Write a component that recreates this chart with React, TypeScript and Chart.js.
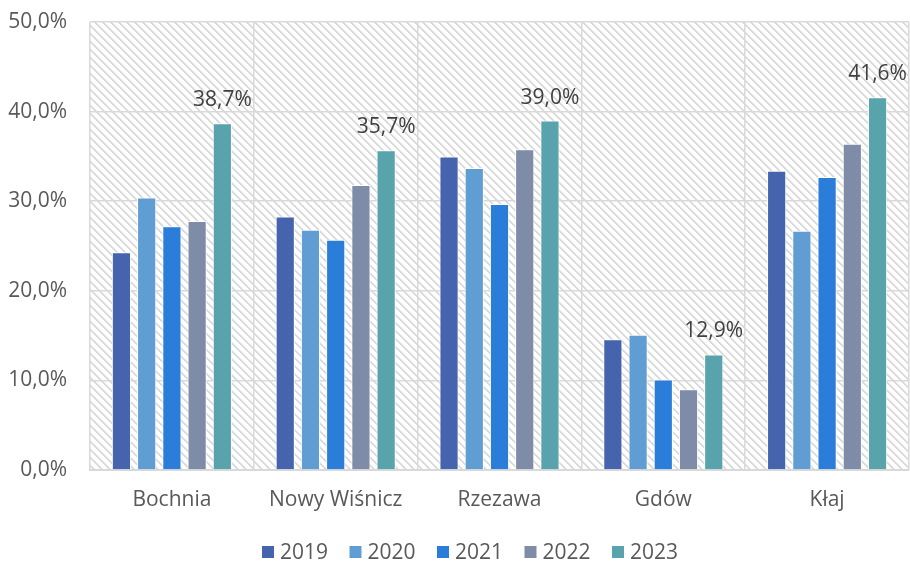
import React, { useEffect, useRef } from "react";
import { Chart, registerables } from "chart.js";

Chart.register(...registerables);

const categories = ["Bochnia", "Nowy Wiśnicz", "Rzezawa", "Gdów", "Kłaj"];
const years = ["2019", "2020", "2021", "2022", "2023"];
const values2019 = [24.3, 28.3, 35.0, 14.6, 33.4];
const values2020 = [30.4, 26.8, 33.7, 15.1, 26.7];
const values2021 = [27.2, 25.7, 29.7, 10.1, 32.7];
const values2022 = [27.8, 31.8, 35.8, 9.0, 36.4];
const values2023 = [38.7, 35.7, 39.0, 12.9, 41.6];
const seriesColors = ["#4664AD", "#609DD3", "#2A7DD8", "#7F8CA7", "#59A3AC"];
const yTicks = [0, 10, 20, 30, 40, 50];

const FONT = "'Open Sans', 'Noto Sans', sans-serif";
const fmt = (v: number) => v.toFixed(1).replace(".", ",") + "%";

function makePattern(ctx: CanvasRenderingContext2D) {
  const c = document.createElement("canvas");
  c.width = 8;
  c.height = 8;
  const p = c.getContext("2d")!;
  p.fillStyle = "#ffffff";
  p.fillRect(0, 0, 8, 8);
  for (let y = 0; y < 8; y++) {
    for (let x = 0; x < 8; x++) {
      const d = (((x - y) % 8) + 8) % 8;
      if (d === 0 || d === 1) {
        p.fillStyle = "#d9d9d9";
        p.fillRect(x, y, 1, 1);
      } else if (d === 2) {
        p.fillStyle = "#efefef";
        p.fillRect(x, y, 1, 1);
      }
    }
  }
  return ctx.createPattern(c, "repeat");
}

const hatchPlugin = {
  id: "hatch",
  beforeDraw(chart: any) {
    const { ctx, chartArea } = chart;
    if (!chartArea) return;
    ctx.save();
    ctx.fillStyle = "#ffffff";
    ctx.fillRect(0, 0, chart.width, chart.height);
    const pat = makePattern(ctx);
    if (pat) {
      ctx.fillStyle = pat;
      ctx.fillRect(chartArea.left, chartArea.top, chartArea.right - chartArea.left, chartArea.bottom - chartArea.top);
    }
    ctx.restore();
  },
};

const labelPlugin = {
  id: "lastLabels",
  afterDatasetsDraw(chart: any) {
    const { ctx } = chart;
    const idx = chart.data.datasets.length - 1;
    const meta = chart.getDatasetMeta(idx);
    const data = chart.data.datasets[idx].data as number[];
    ctx.save();
    ctx.font = `21px ${FONT}`;
    ctx.fillStyle = "#404040";
    ctx.textAlign = "center";
    ctx.textBaseline = "alphabetic";
    meta.data.forEach((bar: any, i: number) => {
      ctx.fillText(fmt(data[i]), bar.x, bar.y - 17);
    });
    ctx.restore();
  },
};

const legendPlugin = {
  id: "customLegend",
  afterDraw(chart: any) {
    const { ctx } = chart;
    ctx.save();
    ctx.font = `21px ${FONT}`;
    ctx.textBaseline = "middle";
    ctx.textAlign = "left";
    const cy = 552;
    chart.data.datasets.forEach((ds: any, i: number) => {
      const x = 262 + i * 87.5;
      ctx.fillStyle = ds.backgroundColor;
      ctx.fillRect(x, cy - 6, 12, 12);
      ctx.fillStyle = "#595959";
      ctx.fillText(ds.label, x + 18, cy + 1);
    });
    ctx.restore();
  },
};

export default function App() {
  const ref = useRef<HTMLCanvasElement>(null);
  useEffect(() => {
    if (!ref.current) return;
    const allValues = [values2019, values2020, values2021, values2022, values2023];
    const chart = new Chart(ref.current, {
      type: "bar",
      data: {
        labels: categories,
        datasets: years.map((y, i) => ({
          label: y,
          data: allValues[i],
          backgroundColor: seriesColors[i],
          borderColor: "#ffffff",
          borderWidth: 1,
          barPercentage: 0.76,
          categoryPercentage: 0.77,
        })),
      },
      options: {
        responsive: false,
        animation: false,
        layout: { padding: { top: 22, right: 1, left: 0, bottom: 0 } },
        plugins: {
          tooltip: { enabled: false },
          legend: { display: false },
        },
        scales: {
          x: {
            afterFit: (s: any) => {
              s.height = 95;
            },
            grid: { color: "#d9d9d9", lineWidth: 1.5, drawTicks: false, offset: true },
            border: { color: "#d9d9d9", width: 2 },
            ticks: { color: "#595959", font: { family: FONT, size: 21, lineHeight: 1.2 }, padding: 17 },
          },
          y: {
            min: 0,
            max: 50,
            afterFit: (s: any) => {
              s.width = 90;
            },
            afterBuildTicks: (s: any) => {
              s.ticks = yTicks.map((v) => ({ value: v }));
            },
            grid: {
              color: "#d9d9d9",
              lineWidth: 1.5,
              drawTicks: true,
              tickLength: 23,
              tickColor: "rgba(0,0,0,0)",
            },
            border: { display: false },
            ticks: {
              color: "#595959",
              font: { family: FONT, size: 21, lineHeight: 1.0 },
              padding: 0,
              callback: (v: any) => fmt(Number(v)),
            },
          },
        },
      },
      plugins: [hatchPlugin, labelPlugin, legendPlugin],
    });
    return () => chart.destroy();
  }, []);
  return (
    <div style={{ position: "fixed", left: 0, top: 0, width: 910, height: 565, background: "#fff" }}>
      <canvas ref={ref} width={910} height={565} />
    </div>
  );
}
